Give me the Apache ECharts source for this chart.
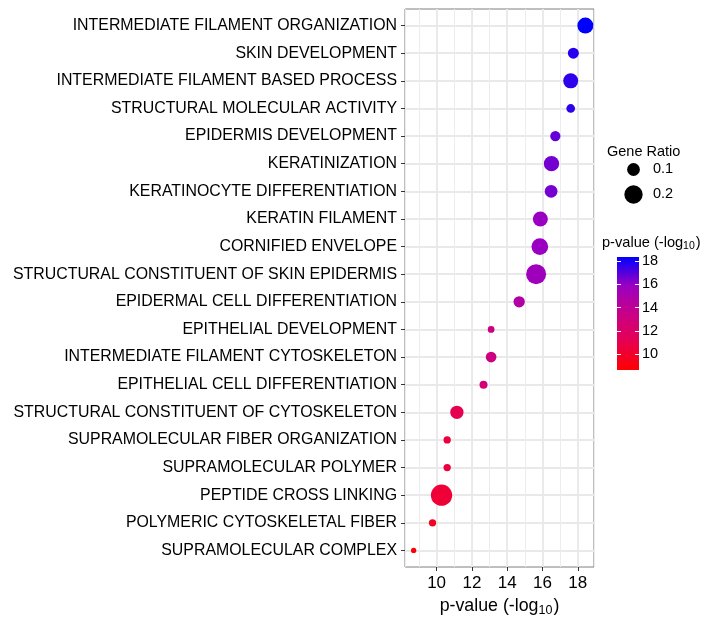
<!DOCTYPE html>
<html>
  <head>
    <meta charset="utf-8" />
    <script src="https://cdn.jsdelivr.net/npm/echarts@6/dist/echarts.min.js"></script>
    <style>
      body { margin: 0; background: #fff; }
    </style>
  </head>
  <body>
    <div id="main" style="width: 711px; height: 617px"></div>

    <script type="text/javascript">
      // GO terms, top to bottom as in the plot
      var terms = [
        "INTERMEDIATE FILAMENT ORGANIZATION",
        "SKIN DEVELOPMENT",
        "INTERMEDIATE FILAMENT BASED PROCESS",
        "STRUCTURAL MOLECULAR ACTIVITY",
        "EPIDERMIS DEVELOPMENT",
        "KERATINIZATION",
        "KERATINOCYTE DIFFERENTIATION",
        "KERATIN FILAMENT",
        "CORNIFIED ENVELOPE",
        "STRUCTURAL CONSTITUENT OF SKIN EPIDERMIS",
        "EPIDERMAL CELL DIFFERENTIATION",
        "EPITHELIAL DEVELOPMENT",
        "INTERMEDIATE FILAMENT CYTOSKELETON",
        "EPITHELIAL CELL DIFFERENTIATION",
        "STRUCTURAL CONSTITUENT OF CYTOSKELETON",
        "SUPRAMOLECULAR FIBER ORGANIZATION",
        "SUPRAMOLECULAR POLYMER",
        "PEPTIDE CROSS LINKING",
        "POLYMERIC CYTOSKELETAL FIBER",
        "SUPRAMOLECULAR COMPLEX"
      ];
      // -log10 p-value
      var pvals = [18.43, 17.75, 17.6, 17.6, 16.73, 16.51, 16.49, 15.88, 15.85, 15.64,
                   14.68, 13.09, 13.09, 12.66, 11.15, 10.6, 10.6, 10.28, 9.77, 8.7];
      // gene ratio
      var ratios = [0.167, 0.088, 0.148, 0.068, 0.081, 0.153, 0.11, 0.148, 0.182, 0.265,
                    0.092, 0.059, 0.085, 0.064, 0.119, 0.061, 0.061, 0.304, 0.061, 0.057];
      var sizeBreaks = [0.1, 0.2];
      var xTicks = [10, 12, 14, 16, 18];
      var colorTicks = [10, 12, 14, 16, 18];

      var pMin = 8.63, pMax = 18.34;
      var rMin = 0.057, rMax = 0.304;
      // red -> blue (Lab-like interpolation, like ggplot)
      var ramp = ["#FF0000", "#E7004F", "#C80088", "#9900C2", "#0000FF"];

      function dotSize(r) {
        return 5.3 + 16 * Math.sqrt(Math.max(0, (r - rMin) / (rMax - rMin)));
      }

      var n = terms.length;
      var rowIdx = terms.map(function (t, i) { return i; });
      var points = pvals.map(function (p, i) {
        return [p, n - 1 - i, ratios[i]];
      });

      var myChart = echarts.init(document.getElementById("main"));

      // colour bar geometry
      var cb = { left: 617, top: 257, width: 22, height: 113 };

      var legendEls = [
        {
          type: "text", left: 607, top: 144,
          style: { text: "Gene Ratio", fontSize: 14.5, fill: "#000", fontFamily: "Liberation Sans" }
        },
        {
          type: "text", left: 602, top: 235,
          style: {
            text: "p-value (-log{s|10})", fontSize: 14.6, fill: "#000", fontFamily: "Liberation Sans",
            rich: { s: { fontSize: 10.5, padding: [7, 1, 0, 0], fontFamily: "Liberation Sans" } }
          }
        },
        {
          type: "rect", z: 1,
          shape: { x: cb.left, y: cb.top, width: cb.width, height: cb.height },
          style: {
            fill: {
              type: "linear", x: 0, y: 0, x2: 0, y2: 1,
              colorStops: ramp.slice().reverse().map(function (c, k) {
                return { offset: k / (ramp.length - 1), color: c };
              })
            }
          }
        }
      ];
      var sizeY = [169.5, 194.5];
      sizeBreaks.forEach(function (b, k) {
        legendEls.push({
          type: "circle",
          shape: { cx: 633.5, cy: sizeY[k], r: dotSize(b) / 2 + 0.4 },
          style: { fill: "#000" }
        });
        legendEls.push({
          type: "text", left: 653, top: sizeY[k] - 8,
          style: { text: String(b), fontSize: 14.5, fill: "#000", fontFamily: "Liberation Sans" }
        });
      });

      var option = {
        animation: false,
        textStyle: { fontFamily: "Liberation Sans" },
        grid: [
          { left: 405, top: 9, right: 117, bottom: 50, outerBoundsMode: "none",
            show: true, borderColor: "#7f7f7f", borderWidth: 1 },
          { left: cb.left, top: cb.top, width: cb.width, height: cb.height,
            outerBoundsMode: "none", show: false }
        ],
        visualMap: {
          show: false, type: "continuous", dimension: 0,
          min: pMin, max: pMax, seriesIndex: 0,
          inRange: { color: ramp }
        },
        xAxis: [
          {
            type: "value", gridIndex: 0, position: "bottom",
            min: 8.21, max: 18.92, splitNumber: 10,
            axisLine: { show: false }, axisTick: { show: false }, axisLabel: { show: false },
            splitLine: { show: true, lineStyle: { color: "#ececec", width: 1 } }
          },
          {
            type: "value", gridIndex: 0, position: "bottom",
            min: 8.21, max: 18.92, splitNumber: 5,
            axisLine: { show: false },
            axisTick: { show: true, length: 4, customValues: xTicks, lineStyle: { color: "#333" } },
            axisLabel: {
              margin: 8, fontSize: 17, color: "#000",
              customValues: xTicks
            },
            splitLine: { show: true, lineStyle: { color: "#e9e9e9", width: 1.8 } },
            name: "p-value (-log{s|10})", nameLocation: "middle", nameGap: 26,
            nameTextStyle: {
              fontSize: 17.8, color: "#000",
              rich: { s: { fontSize: 12.5, padding: [9, 1, 0, 0] } }
            }
          },
          { type: "category", gridIndex: 1, data: [""], show: false }
        ],
        yAxis: [
          {
            type: "value", gridIndex: 0,
            min: -0.6, max: n - 1 + 0.6, splitNumber: 20,
            axisLine: { show: false },
            axisTick: { show: true, length: 4, customValues: rowIdx, lineStyle: { color: "#333" } },
            axisLabel: {
              margin: 8, fontSize: 15.9, color: "#000",
              customValues: rowIdx,
              formatter: function (v) {
                var k = Math.round(v);
                return terms[n - 1 - k];
              }
            },
            splitLine: { show: true, lineStyle: { color: "#e9e9e9", width: 1.8 } }
          },
          {
            type: "value", gridIndex: 1, position: "right", z: 10,
            min: pMin, max: pMax, splitNumber: 5,
            axisLine: { show: false },
            axisTick: { show: true, inside: true, length: 4, customValues: colorTicks,
                        lineStyle: { color: "#fff", width: 1 } },
            axisLabel: { margin: 3, fontSize: 14.5, color: "#000", customValues: colorTicks },
            splitLine: { show: false }
          },
          {
            type: "value", gridIndex: 1, position: "left", z: 10,
            min: pMin, max: pMax, splitNumber: 5,
            axisLine: { show: false },
            axisTick: { show: true, inside: true, length: 4, customValues: colorTicks,
                        lineStyle: { color: "#fff", width: 1 } },
            axisLabel: { show: false },
            splitLine: { show: false }
          }
        ],
        graphic: legendEls,
        series: [
          {
            type: "scatter",
            xAxisIndex: 0, yAxisIndex: 0,
            data: points,
            symbolSize: function (v) { return dotSize(v[2]); },
            itemStyle: { opacity: 1 },
            z: 5
          }
        ]
      };

      myChart.setOption(option);
    </script>
  </body>
</html>
